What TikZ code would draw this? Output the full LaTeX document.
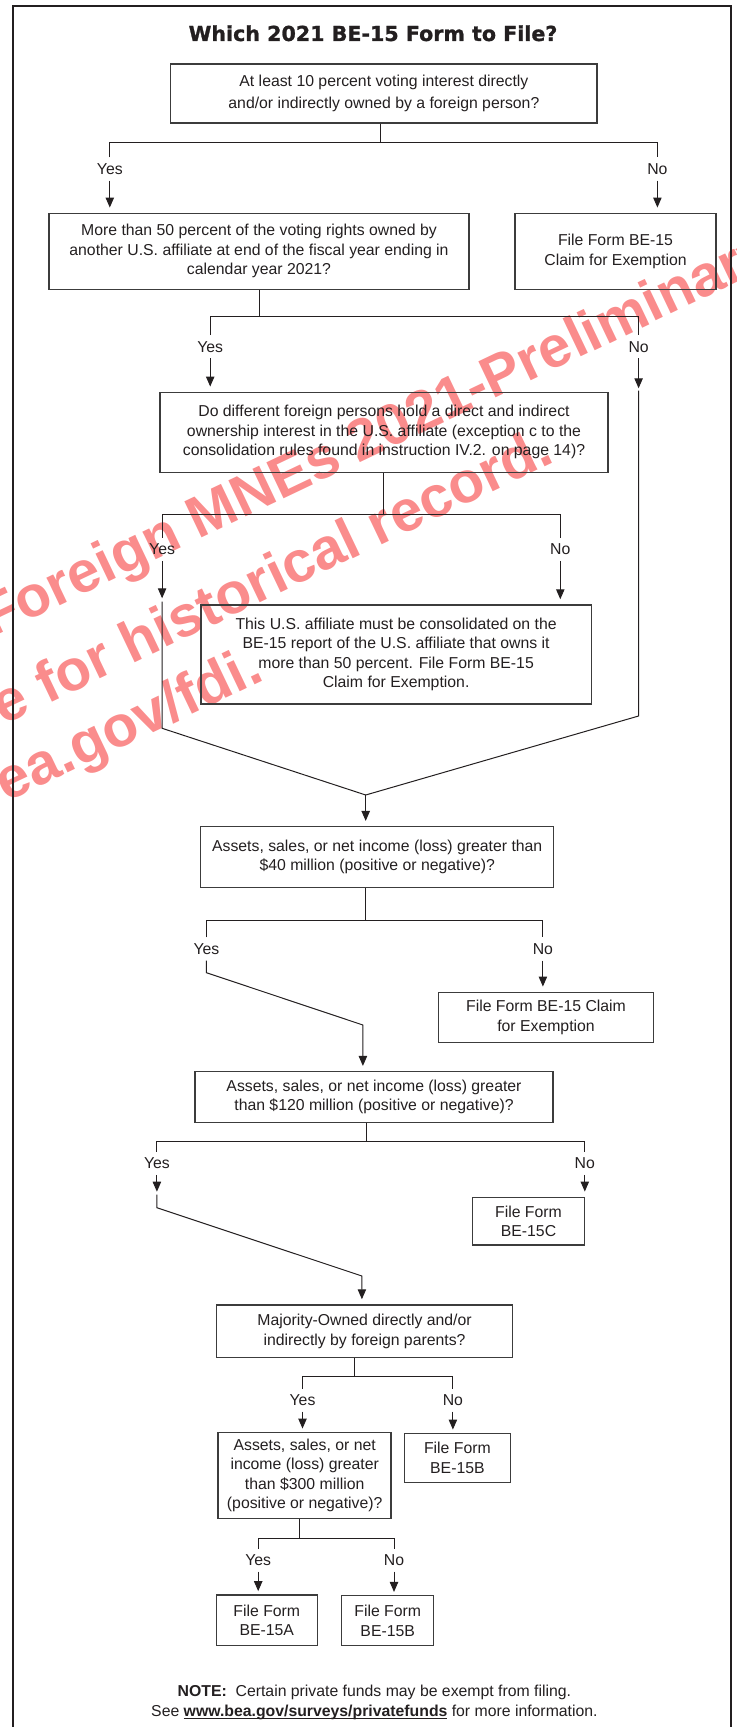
\documentclass[tikz,border=0pt]{standalone}
\usepackage{fontspec}
\setmainfont{Liberation Sans}
\newfontfamily\headfont{DejaVu Sans}[BoldFeatures={FakeBold=1.2}]
\usepackage{xcolor}
\usetikzlibrary{positioning,arrows.meta}

\definecolor{ink}{RGB}{35,31,32}
\definecolor{boxline}{RGB}{60,60,60}
\definecolor{stamp}{RGB}{250,140,140}

\newcommand\weburl[1]{\setbox0=\hbox{#1}\rlap{\rule[-1.3pt]{\wd0}{0.6pt}}\box0\relax}

\tikzset{
  qbox/.style={draw=boxline,line width=0.75pt,align=center,inner sep=0pt,text=ink,font=\fontsize{7.9}{9.7}\selectfont},
  lbl/.style={inner sep=2.8pt,text=ink,font=\fontsize{7.9}{9.7}\selectfont},
  conn/.style={draw=ink,line width=0.5pt},
  arr/.style={conn,-{Triangle[length=5pt,width=4.2pt]},shorten >=2.5pt},
}

\begin{document}
\begin{tikzpicture}[x=0.5pt,y=-0.5pt]
        \useasboundingbox (0,0) rectangle (736,1727);

        %watermark
        \begin{scope}
            \clip (0,0) rectangle (736,1727);
            \begin{scope}[every node/.style={text=stamp,font=\fontsize{29}{35}\selectfont\bfseries,inner sep=0pt,rotate=25.5}]
                \node[anchor=base west] (wm1) at (-8,638) {Foreign MNEs 2021-Preliminary};
                \node[anchor=base west] (wm2) at (-17,735) {re for historical record.};
                \node[anchor=base east] (wm3) at (266,679) {bea.gov/fdi.};
            \end{scope}
        \end{scope}

        %frame and title
        \draw[ink,line width=1pt] (13.2,1730) -- (13.2,6) -- (731,6) -- (731,1730);
        \node[text=ink,font=\headfont\bfseries\fontsize{10.3}{12}\selectfont] (title) at (373,33.3) {Which 2021 BE-15 Form to File?};

        %nodes
        \node[qbox,minimum width=213.3pt,minimum height=29.4pt,font=\fontsize{7.9}{10.85}\selectfont] (q1) at (383.9,93.4)
            {At least 10 percent voting interest directly\\and/or indirectly owned by a foreign person?};
        \node[qbox,minimum width=210pt,minimum height=38pt] (q2) at (259,251.3)
            {More than 50 percent of the voting rights owned by\\another U.S. affiliate at end of the fiscal year ending in\\calendar year 2021?};
        \node[qbox,minimum width=100.5pt,minimum height=38pt] (x1) at (615.5,251.3)
            {File Form BE-15\\Claim for Exemption};
        \node[qbox,minimum width=223.9pt,minimum height=40pt] (q3) at (384,432.3)
            {Do different foreign persons hold a direct and indirect\\ownership interest in the U.S. affiliate (exception c to the\\consolidation rules found in instruction IV.2. on page 14)?};
        \node[qbox,minimum width=195.3pt,minimum height=49.5pt] (c1) at (396.1,654.5)
            {This U.S. affiliate must be consolidated on the\\BE-15 report of the U.S. affiliate that owns it\\more than 50 percent. File Form BE-15\\Claim for Exemption.};
        \node[qbox,minimum width=176.5pt,minimum height=30.5pt] (q4) at (377.2,857.2)
            {Assets, sales, or net income (loss) greater than\\\$40 million (positive or negative)?};
        \node[qbox,minimum width=107.7pt,minimum height=25pt] (x2) at (546,1017.3)
            {File Form BE-15 Claim\\for Exemption};
        \node[qbox,minimum width=178.9pt,minimum height=25.5pt] (q5) at (374,1097.2)
            {Assets, sales, or net income (loss) greater\\than \$120 million (positive or negative)?};
        \node[qbox,minimum width=55.9pt,minimum height=23.9pt] (f15c) at (528.5,1221.2)
            {File Form\\BE-15C};
        \node[qbox,minimum width=147.8pt,minimum height=26.2pt] (q6) at (364.5,1331.2)
            {Majority-Owned directly and/or\\indirectly by foreign parents?};
        \node[qbox,minimum width=86.5pt,minimum height=43pt] (q7) at (304.7,1475.3)
            {Assets, sales, or net\\income (loss) greater\\than \$300 million\\(positive or negative)?};
        \node[qbox,minimum width=53pt,minimum height=24.7pt] (f15b) at (457.4,1458)
            {File Form\\BE-15B};
        \node[qbox,minimum width=50.5pt,minimum height=25.4pt] (f15a) at (266.8,1620.3)
            {File Form\\BE-15A};
        \node[qbox,minimum width=46pt,minimum height=25pt] (f15bb) at (387.7,1620.7)
            {File Form\\BE-15B};

        \node[lbl,align=center,inner sep=0pt] (note) at (374.4,1702.5)
            {\textbf{NOTE:}\ \ Certain private funds may be exempt from filing.\\See \weburl{\textbf{www.bea.gov/surveys/privatefunds}} for more information.};

        %yes/no splits
        \foreach \n/\q/\sx/\sy/\yx/\nx/\ly in {1/q1/380.3/142.7/109.8/657.4/169,
                2/q2/259.7/316.7/210.2/638.6/346.7, 3/q3/383.6/514.3/162.1/560.3/549.3,
                4/q4/365.7/920/206.4/542.9/949, 5/q5/366.2/1141.7/156.9/584.8/1163.3,
                6/q6/354.9/1376.7/302.5/452.9/1400, 7/q7/299.2/1538.3/258.2/394/1560}{
            \coordinate (s\n) at (\sx,\sy);
            \node[lbl] (y\n) at (\yx,\ly) {Yes};
            \node[lbl] (n\n) at (\nx,\ly) {No};
            \draw[conn] (\q.south -| s\n) -- (s\n) (y\n.north) |- (s\n -| n\n) -- (n\n.north);
        }

        %bends
        \coordinate (m1) at (365.7,795);
        \coordinate (n2t) at (638.6,388.3);
        \coordinate (n2a) at (638.6,390.7);
        \coordinate (n2b) at (638.6,716);
        \coordinate (y3t) at (162.1,598.3);
        \coordinate (y3a) at (162.1,601.5);
        \coordinate (y3b) at (162.1,728.3);
        \coordinate (y4a) at (206.4,972.7);
        \coordinate (y4b) at (362.9,1025);
        \coordinate (y5t) at (156.9,1191.7);
        \coordinate (y5a) at (156.9,1194.5);
        \coordinate (y5b) at (156.9,1207.7);
        \coordinate (y5c) at (361.9,1276);

        %arrows
        \draw[arr] (y1.south) -- (y1.south |- q2.north);
        \draw[arr] (n1.south) -- (n1.south |- x1.north);
        \draw[arr] (y2.south) -- (y2.south |- q3.north);
        \draw[arr,shorten >=0pt] (n2.south) -- (n2t);
        \draw[conn] (n2a) -- (n2b) -- (m1);
        \draw[arr,shorten >=0pt] (y3.south) -- (y3t);
        \draw[conn] (y3a) -- (y3b) -- (m1);
        \draw[arr] (n3.south) -- (n3.south |- c1.north);
        \draw[arr] (m1) -- (m1 |- q4.north);
        \draw[arr] (y4.south) -- (y4a) -- (y4b) -- (y4b |- q5.north);
        \draw[arr] (n4.south) -- (n4.south |- x2.north);
        \draw[arr,shorten >=0pt] (y5.south) -- (y5t);
        \draw[arr] (y5a) -- (y5b) -- (y5c) -- (y5c |- q6.north);
        \draw[arr] (n5.south) -- (n5.south |- f15c.north);
        \draw[arr,shorten >=1.5pt] (y6.south) -- (y6.south |- q7.north);
        \draw[arr,shorten >=1.5pt] (n6.south) -- (n6.south |- f15b.north);
        \draw[arr,shorten >=1.5pt] (y7.south) -- (y7.south |- f15a.north);
        \draw[arr,shorten >=1.5pt] (n7.south) -- (n7.south |- f15bb.north);
\end{tikzpicture}
\end{document}
